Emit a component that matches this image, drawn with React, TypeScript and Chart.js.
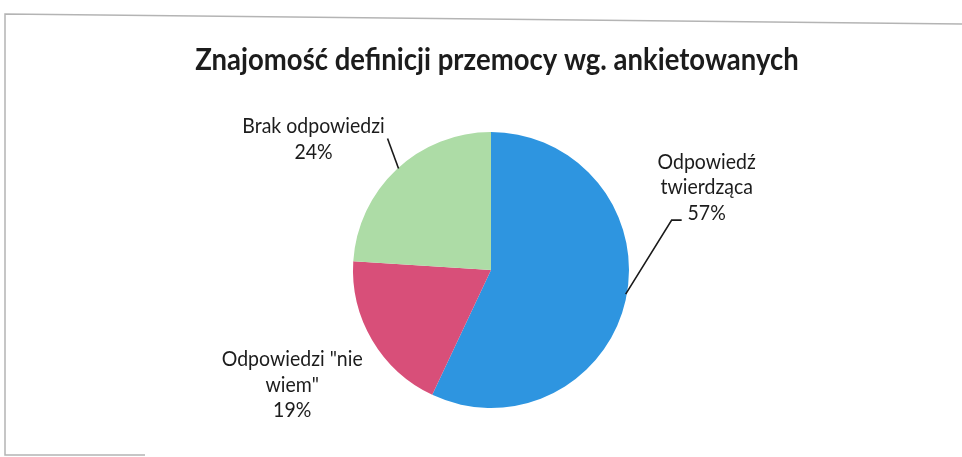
import React, { useEffect, useRef } from "react";
import { Chart, registerables } from "chart.js";

Chart.register(...registerables);

const TITLE = "Znajomość definicji przemocy wg. ankietowanych";
const categories = ["Odpowiedź twierdząca", 'Odpowiedzi "nie wiem"', "Brak odpowiedzi"];
const values = [57, 19, 24];
const colors = ["#2E95E0", "#D84F79", "#ADDCA6"];
// wrapped label lines (category part)
const labelWraps = [["Odpowiedź", "twierdząca"], ['Odpowiedzi "nie', 'wiem"'], ["Brak odpowiedzi"]];
// label text offset from the slice's mid-angle edge point
const labelDx = [81, -80, -83];
const labelDy = [-138, 19, -43];
// leader line segments, relative to the edge point (empty = no leader)
const leaders: number[][][] = [
  [[0, -6], [46, -80], [56, -80]],
  [],
  [[2, -1], [-9, -31]],
];

const LABEL_FONT = "19.5px Lato";
const TITLE_FONT = "bold 27.5px Lato";
const TEXT_COLOR = "#1c1c1c";
const LINE_H = 25.5;
const TEXT_SY = 1.08;

const decorPlugin = {
  id: "decor",
  beforeDraw(chart: any) {
    const ctx = chart.ctx;
    ctx.save();
    ctx.strokeStyle = "#b4b4b4";
    ctx.lineWidth = 1.5;
    ctx.beginPath();
    ctx.moveTo(chart.width, 24);
    ctx.lineTo(5, 14);
    ctx.lineTo(5, 455);
    ctx.lineTo(145, 455);
    ctx.stroke();
    ctx.restore();
  },
  afterDraw(chart: any) {
    const ctx = chart.ctx;
    const drawText = (t: string, x: number, y: number) => {
      ctx.save();
      ctx.translate(x, y);
      ctx.scale(1, TEXT_SY);
      ctx.fillText(t, 0, 0);
      ctx.restore();
    };
    ctx.save();
    ctx.fillStyle = TEXT_COLOR;
    ctx.textAlign = "center";
    ctx.textBaseline = "middle";
    ctx.font = TITLE_FONT;
    drawText(TITLE, 497, 60);

    const meta = chart.getDatasetMeta(0);
    meta.data.forEach((arc: any, i: number) => {
      const { x, y, startAngle, endAngle, outerRadius } = arc.getProps(
        ["x", "y", "startAngle", "endAngle", "outerRadius"],
        true
      );
      const mid = (startAngle + endAngle) / 2;
      const ex = x + Math.cos(mid) * outerRadius;
      const ey = y + Math.sin(mid) * outerRadius;
      const pts = leaders[i];
      if (pts.length) {
        ctx.strokeStyle = "#1a1a1a";
        ctx.lineWidth = 1.6;
        ctx.beginPath();
        pts.forEach((p, k) => {
          if (k === 0) ctx.moveTo(ex + p[0], ey + p[1]);
          else ctx.lineTo(ex + p[0], ey + p[1]);
        });
        ctx.stroke();
      }
      const lines = [...labelWraps[i], `${values[i]}%`];
      ctx.font = LABEL_FONT;
      ctx.fillStyle = TEXT_COLOR;
      lines.forEach((t, k) => {
        drawText(t, ex + labelDx[i], ey + labelDy[i] + k * LINE_H);
      });
    });
    ctx.restore();
  },
};

export default function App() {
  const ref = useRef<HTMLCanvasElement | null>(null);
  useEffect(() => {
    document.body.style.margin = "0";
    const chart = new Chart(ref.current as HTMLCanvasElement, {
      type: "pie",
      data: {
        labels: categories,
        datasets: [
          {
            data: values,
            backgroundColor: colors,
            borderWidth: 0,
          },
        ],
      },
      options: {
        responsive: false,
        animation: false,
        layout: { padding: { top: 132, bottom: 49, left: 20, right: 0 } },
        plugins: {
          legend: { display: false },
          tooltip: { enabled: false },
          title: { display: false },
        },
      },
      plugins: [decorPlugin],
    });
    return () => chart.destroy();
  }, []);
  return <canvas ref={ref} width={962} height={457} style={{ display: "block" }} />;
}
